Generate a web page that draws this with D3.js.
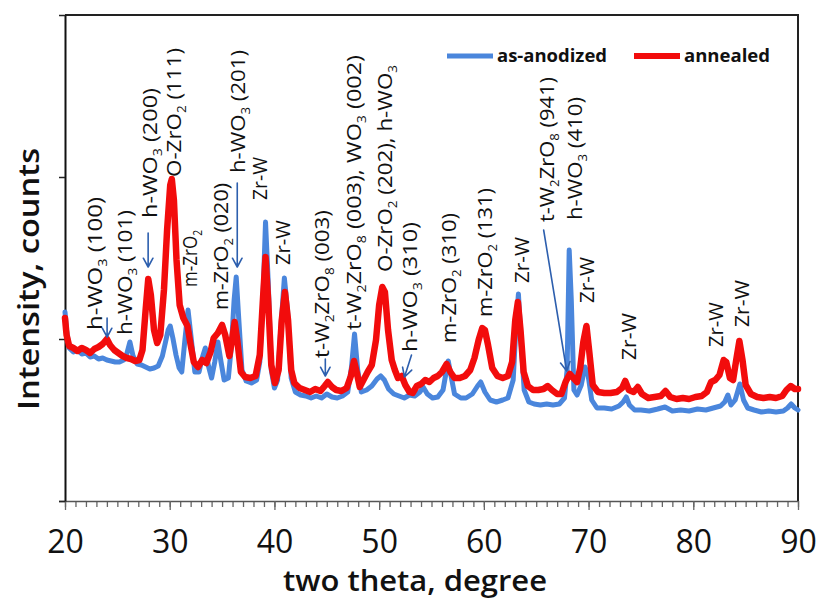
<!DOCTYPE html>
<html>
<head>
<meta charset="utf-8">
<script src="https://cdn.jsdelivr.net/npm/d3@7"></script>
<style>
  body { margin: 0; background: #fff; }
  svg { display: block; }
</style>
</head>
<body>
<svg id="chart" width="817" height="599"></svg>
<script>
// XRD patterns: [two theta (deg), intensity (counts)]
const anodized = [
  [20.0,1890],[20.15,1710],[20.4,1530],[20.8,1490],[21.2,1510],[21.6,1470],[22.0,1480],[22.4,1440],
  [22.8,1450],[23.2,1420],[23.6,1430],[24.0,1410],[24.4,1400],[24.8,1390],[25.2,1390],[25.6,1410],
  [25.9,1470],[26.2,1590],[26.5,1450],[26.9,1370],[27.3,1360],[27.7,1340],[28.1,1320],[28.5,1330],
  [28.9,1350],[29.3,1450],[29.6,1590],[29.85,1710],[30.05,1750],[30.3,1630],[30.6,1460],[30.9,1330],
  [31.15,1290],[31.45,1610],[31.75,1910],[32.05,1630],[32.4,1290],[32.8,1290],[33.1,1430],[33.4,1530],
  [33.7,1350],[34.0,1230],[34.3,1390],[34.6,1590],[34.9,1390],[35.2,1210],[35.6,1230],[35.9,1560],
  [36.15,2010],[36.35,2240],[36.6,1810],[36.9,1310],[37.3,1200],[37.8,1180],[38.3,1210],[38.6,1390],
  [38.9,2010],[39.15,2790],[39.4,2210],[39.7,1310],[40.0,1130],[40.3,1210],[40.6,1710],[40.95,2230],
  [41.25,1910],[41.6,1230],[42.0,1090],[42.5,1060],[43.0,1050],[43.5,1030],[44.0,1050],[44.5,1030],
  [45.0,1070],[45.5,1040],[46.0,1030],[46.5,1050],[47.0,1090],[47.35,1330],[47.65,1670],[47.95,1310],
  [48.3,1090],[48.8,1110],[49.3,1150],[49.8,1220],[50.15,1250],[50.5,1210],[50.9,1120],[51.4,1070],
  [51.9,1050],[52.4,1030],[52.9,1060],[53.4,1050],[53.9,1090],[54.2,1140],[54.6,1070],[55.1,1030],
  [55.6,1040],[56.1,1110],[56.4,1290],[56.6,1400],[56.85,1260],[57.2,1070],[57.8,1030],[58.3,1030],
  [58.9,1070],[59.4,1150],[59.7,1190],[60.1,1090],[60.6,1010],[61.2,990],[61.8,1010],[62.3,1030],
  [62.8,1210],[63.05,1710],[63.3,2070],[63.55,1610],[63.85,1110],[64.3,990],[64.8,970],[65.4,960],
  [66.0,970],[66.6,960],[67.2,970],[67.7,1030],[67.95,1310],[68.15,2510],[68.35,2010],[68.6,1110],
  [68.9,1060],[69.3,1160],[69.65,1340],[69.95,1260],[70.3,1010],[70.8,930],[71.5,930],[72.2,920],
  [72.9,950],[73.3,990],[73.6,1040],[73.9,960],[74.4,910],[75.0,910],[75.8,900],[76.6,920],
  [77.3,940],[78.0,900],[78.8,910],[79.6,900],[80.4,920],[81.2,910],[81.9,930],[82.6,950],
  [83.0,990],[83.3,1060],[83.6,960],[84.0,1010],[84.45,1170],[84.8,1010],[85.2,930],[85.8,910],
  [86.5,890],[87.2,900],[87.9,890],[88.6,900],[89.0,930],[89.35,970],[89.7,930],[90.0,910]
];

const annealed = [
  [20.0,1830],[20.15,1660],[20.4,1550],[20.8,1530],[21.2,1500],[21.6,1530],[22.0,1510],[22.4,1480],
  [22.8,1520],[23.2,1540],[23.6,1570],[24.0,1620],[24.3,1560],[24.7,1510],[25.1,1480],[25.5,1450],
  [25.9,1430],[26.3,1420],[26.7,1400],[27.1,1410],[27.4,1510],[27.7,1910],[27.95,2220],[28.2,2060],
  [28.5,1710],[28.8,1580],[29.1,1660],[29.45,2110],[29.75,2710],[30.05,3160],[30.2,3220],[30.4,3010],
  [30.65,2410],[30.95,1960],[31.3,1830],[31.7,1750],[32.0,1560],[32.3,1390],[32.7,1340],[33.1,1410],
  [33.5,1380],[33.9,1490],[34.2,1630],[34.6,1680],[35.0,1760],[35.3,1660],[35.7,1450],[35.95,1610],
  [36.2,1790],[36.45,1610],[36.8,1290],[37.2,1240],[37.7,1230],[38.2,1250],[38.6,1460],[38.9,2010],
  [39.15,2440],[39.4,2010],[39.7,1360],[40.05,1180],[40.4,1310],[40.7,1810],[41.0,2090],[41.3,1810],
  [41.6,1310],[41.9,1180],[42.4,1130],[42.9,1110],[43.4,1090],[43.9,1120],[44.4,1100],[44.8,1150],
  [45.1,1190],[45.5,1140],[45.9,1110],[46.4,1100],[46.9,1130],[47.3,1250],[47.6,1400],[47.85,1290],
  [48.15,1140],[48.5,1210],[48.9,1290],[49.3,1360],[49.7,1610],[50.0,1960],[50.3,2140],[50.55,2090],
  [50.85,1710],[51.2,1410],[51.5,1310],[51.8,1230],[52.15,1250],[52.5,1160],[52.9,1090],[53.2,1080],
  [53.6,1150],[54.0,1170],[54.4,1210],[54.8,1190],[55.2,1230],[55.6,1250],[56.0,1290],[56.45,1370],
  [56.8,1290],[57.2,1230],[57.7,1230],[58.2,1250],[58.7,1310],[59.1,1430],[59.5,1610],[59.85,1730],
  [60.1,1710],[60.4,1560],[60.8,1330],[61.3,1250],[61.8,1230],[62.3,1250],[62.7,1390],[63.0,1810],
  [63.25,1990],[63.5,1710],[63.8,1290],[64.2,1150],[64.7,1110],[65.2,1110],[65.7,1120],[66.1,1150],
  [66.5,1110],[67.0,1070],[67.4,1070],[67.8,1190],[68.2,1270],[68.55,1230],[68.9,1190],[69.2,1330],
  [69.5,1590],[69.8,1750],[70.05,1510],[70.4,1160],[70.9,1090],[71.5,1080],[72.1,1080],[72.7,1090],
  [73.2,1130],[73.5,1200],[73.85,1110],[74.3,1090],[74.7,1140],[75.1,1070],[75.7,1030],[76.3,1040],
  [76.9,1050],[77.35,1100],[77.8,1040],[78.4,1020],[79.0,1030],[79.6,1020],[80.2,1040],[80.8,1050],
  [81.3,1090],[81.7,1190],[82.1,1210],[82.5,1260],[82.9,1410],[83.15,1390],[83.5,1230],[83.8,1210],
  [84.1,1410],[84.4,1600],[84.7,1410],[85.0,1160],[85.5,1070],[86.1,1040],[86.7,1030],[87.3,1040],
  [87.9,1030],[88.5,1050],[88.9,1110],[89.3,1150],[89.7,1120],[90.0,1120]
];

const seriesNames = ["as-anodized", "annealed"];
const xTicks = [20, 30, 40, 50, 60, 70, 80, 90];
const yTicks = [0, 1620, 3240, 4860];

// Phase assignments ("_n" marks a subscript digit)
const labelText = [
  "h-WO_3 (100)", "h-WO_3 (101)", "h-WO_3 (200)", "O-ZrO_2 (111)", "m-ZrO_2",
  "m-ZrO_2 (020)", "h-WO_3 (201)", "Zr-W", "Zr-W", "t-W_2ZrO_8 (003)",
  "t-W_2ZrO_8 (003), WO_3 (002)", "O-ZrO_2 (202), h-WO_3", "h-WO_3 (310)", "m-ZrO_2 (310)",
  "m-ZrO_2 (131)", "Zr-W", "t-W_2ZrO_8 (941)", "h-WO_3 (410)", "Zr-W", "Zr-W", "Zr-W", "Zr-W"
];
const labelTheta = [22.87, 25.74, 28.13, 30.42, 31.95, 34.92, 36.54, 38.65, 40.85, 44.58,
  47.64, 50.6, 52.99, 56.63, 60.07, 63.61, 66.0, 68.68, 69.82, 73.84, 82.16, 84.65];
const labelCounts = [1710, 1660, 2830, 3240, 2140, 1910, 3280, 3010, 2360, 1430,
  1710, 2290, 1490, 1580, 1840, 2180, 2790, 2810, 1980, 1410, 1540, 1740];

// Pointer arrows: start and tip, [two theta, counts]
const arrowFrom = [[24.02, 1830], [27.94, 2680], [36.45, 3180], [44.86, 1420], [53.09, 1460], [65.71, 2710]];
const arrowTo   = [[24.02, 1640], [27.94, 2340], [36.45, 2340], [44.86, 1250], [52.42, 1240], [67.91, 1300]];

// ---------------------------------------------------------------------------
const svg = d3.select("#chart");
const plot = { left: 65, right: 798, top: 15, bottom: 501 };

const x = d3.scaleLinear().domain([20, 90]).range([plot.left, plot.right]);
const y = d3.scaleLinear().domain([0, 4860]).range([plot.bottom, plot.top]);

const blue = "#4a86dc";
const red = "#f20c0c";
const arrowBlue = "#2d5fae";
const uiFont = "'Open Sans', 'Liberation Sans', sans-serif";

// frame (top and right)
svg.append("path")
  .attr("d", `M${plot.left},${plot.top}H${plot.right}V${plot.bottom}`)
  .attr("fill", "none").attr("stroke", "#222").attr("stroke-width", 2);

// minor x ticks every degree
svg.append("g")
  .attr("transform", `translate(0,${plot.bottom})`)
  .call(d3.axisBottom(x).tickValues(d3.range(20, 91, 1)).tickSize(6).tickSizeOuter(0).tickFormat(""))
  .call(g => g.select(".domain").remove())
  .call(g => g.selectAll("line").attr("stroke", "#666").attr("stroke-width", 1.3));

// major x ticks with labels
svg.append("g")
  .attr("transform", `translate(0,${plot.bottom})`)
  .call(d3.axisBottom(x).tickValues(xTicks).tickSize(9).tickPadding(20).tickSizeOuter(0).tickFormat(d3.format("d")))
  .call(g => g.select(".domain").attr("stroke", "#555").attr("stroke-width", 1.5)
      .attr("d", `M${plot.left - 6},0.5H${plot.right}`))
  .call(g => g.selectAll("line").attr("stroke", "#666").attr("stroke-width", 1.3))
  .call(g => g.selectAll("text")
      .attr("fill", "#111")
      .style("font-family", "'Liberation Sans Narrow', 'Open Sans', sans-serif")
      .style("font-size", "32px"));

// y axis (ticks only)
svg.append("g")
  .attr("transform", `translate(${plot.left},0)`)
  .call(d3.axisLeft(y).tickValues(yTicks).tickSize(6).tickSizeOuter(0).tickFormat(""))
  .call(g => g.select(".domain").attr("stroke", "#111").attr("stroke-width", 2))
  .call(g => g.selectAll("line").attr("stroke", "#222").attr("stroke-width", 1.5));

// axis titles
svg.append("text")
  .attr("x", 415).attr("y", 591)
  .attr("text-anchor", "middle")
  .attr("textLength", 264).attr("lengthAdjust", "spacingAndGlyphs")
  .style("font-family", uiFont).style("font-size", "28px").style("font-weight", 600)
  .attr("fill", "#111")
  .text("two theta, degree");

svg.append("text")
  .attr("transform", "translate(39,279) rotate(-90)")
  .attr("text-anchor", "middle")
  .attr("textLength", 262).attr("lengthAdjust", "spacingAndGlyphs")
  .style("font-family", uiFont).style("font-size", "28px").style("font-weight", 600)
  .attr("fill", "#111")
  .text("Intensity, counts");

// patterns
const line = d3.line().x(d => x(d[0])).y(d => y(d[1])).curve(d3.curveLinear);

svg.append("path").datum(anodized)
  .attr("d", line).attr("fill", "none")
  .attr("stroke", blue).attr("stroke-width", 5)
  .attr("stroke-linejoin", "round").attr("stroke-linecap", "round");

svg.append("path").datum(annealed)
  .attr("d", line).attr("fill", "none")
  .attr("stroke", red).attr("stroke-width", 6.5)
  .attr("stroke-linejoin", "round").attr("stroke-linecap", "round");

// legend
const legendItems = [
  { name: seriesNames[0], color: blue, width: 5, x0: 447, len: 110 },
  { name: seriesNames[1], color: red, width: 6, x0: 634, len: 86 }
];
const legend = svg.append("g");
legendItems.forEach(it => {
  legend.append("line")
    .attr("x1", it.x0).attr("x2", it.x0 + 46).attr("y1", 56).attr("y2", 56)
    .attr("stroke", it.color).attr("stroke-width", it.width);
  legend.append("text")
    .attr("x", it.x0 + 50).attr("y", 62)
    .attr("textLength", it.len).attr("lengthAdjust", "spacingAndGlyphs")
    .style("font-family", uiFont).style("font-size", "18px").style("font-weight", 700)
    .attr("fill", "#111")
    .text(it.name);
});

// arrows
const arrows = svg.append("g");
arrowFrom.forEach((a, i) => {
  const x1 = x(a[0]), y1 = y(a[1]);
  const x2 = x(arrowTo[i][0]), y2 = y(arrowTo[i][1]);
  const ang = Math.atan2(y2 - y1, x2 - x1);
  const L = 10, spread = 0.5;
  const hx1 = x2 - L * Math.cos(ang - spread), hy1 = y2 - L * Math.sin(ang - spread);
  const hx2 = x2 - L * Math.cos(ang + spread), hy2 = y2 - L * Math.sin(ang + spread);
  arrows.append("path")
    .attr("d", `M${x1},${y1}L${x2},${y2}M${hx1},${hy1}L${x2},${y2}L${hx2},${hy2}`)
    .attr("fill", "none").attr("stroke", arrowBlue).attr("stroke-width", 1.6)
    .attr("stroke-linejoin", "round").attr("stroke-linecap", "round");
});

// rotated phase labels
const labelLength = [133, 125, 130, 129, 57, 127, 123, 43, 45, 148, 275, 207, 130, 130, 129, 46, 145, 123, 46, 47, 45, 47];
const labels = svg.append("g");
labelText.forEach((txt, i) => {
  const t = labels.append("text")
    .attr("transform", `translate(${x(labelTheta[i])},${y(labelCounts[i])}) rotate(-90)`)
    .attr("y", 7)
    .attr("textLength", labelLength[i]).attr("lengthAdjust", "spacingAndGlyphs")
    .style("font-family", uiFont).style("font-size", "20px")
    .attr("fill", "#111");
  const parts = txt.split(/_(\d)/);
  let sub = false;
  parts.forEach((p, k) => {
    if (p === "") return;
    const isSub = k % 2 === 1;
    const ts = t.append("tspan").text(p);
    if (isSub) {
      ts.style("font-size", "12px").attr("dy", 5);
      sub = true;
    } else if (sub) {
      ts.attr("dy", -5);
      sub = false;
    }
  });
});
</script>
</body>
</html>
